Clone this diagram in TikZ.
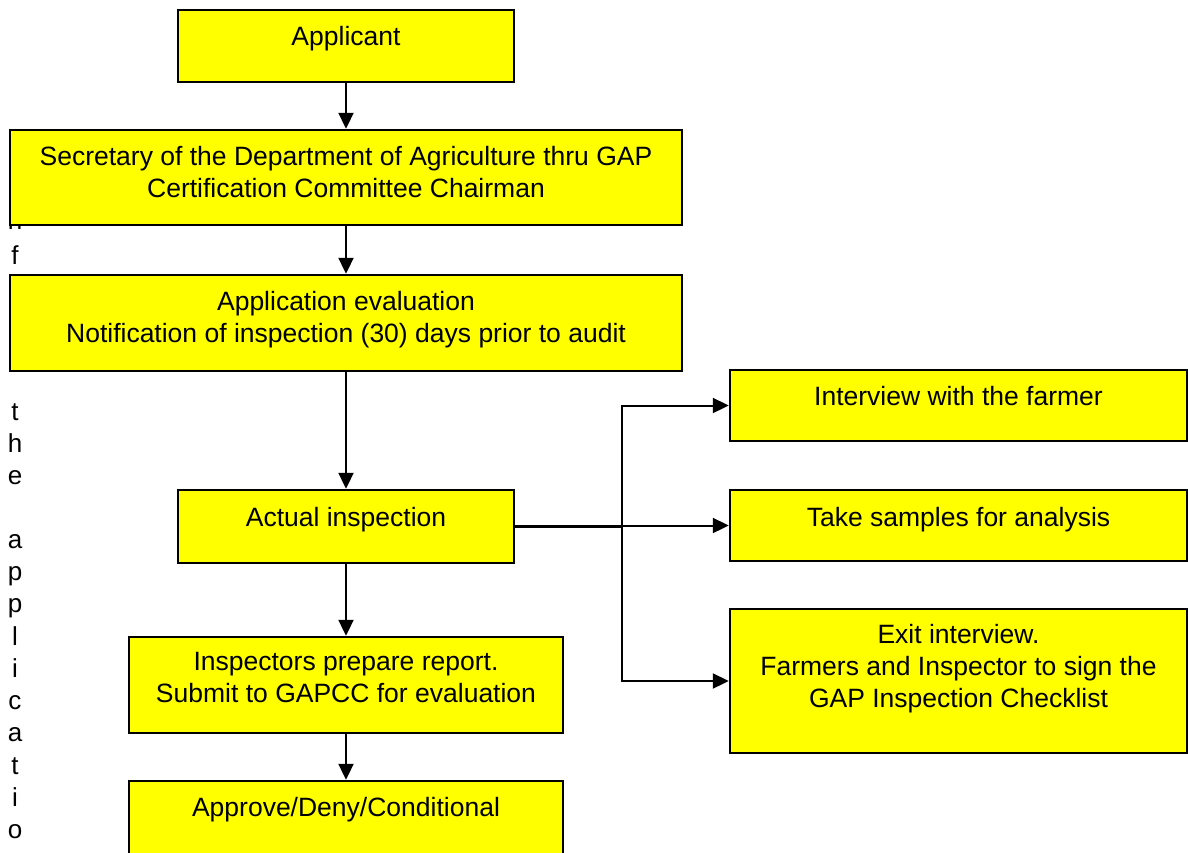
\documentclass[tikz,border=0pt]{standalone}
\usepackage{fontspec}
\setmainfont{Liberation Sans}
\usetikzlibrary{arrows.meta}
\definecolor{boxyellow}{RGB}{255,255,0}
\tikzset{
  box/.style={draw=black, fill=boxyellow, line width=2.4pt, inner sep=0pt, rectangle},
  txt/.style={anchor=base, inner sep=0pt, align=center, font=\fontsize{26.5}{32}\selectfont},
  letter/.style={anchor=base, inner sep=0pt, font=\fontsize{26}{32}\selectfont},
  arr/.style={line width=2pt, -{Triangle[length=16pt,width=15pt]}},
  conn/.style={line width=2.6pt}
}
\begin{document}
\begin{tikzpicture}[x=1pt,y=-1pt]
\useasboundingbox (0,0) rectangle (1188,852);
\clip (0,0) rectangle (1188,852);
% vertical letters on the left
\node[letter] (l0) at (15,229) {n};
\node[letter] (l1) at (15,264) {f};
\node[letter] (l2) at (15,420) {t};
\node[letter] (l3) at (15,452) {h};
\node[letter] (l4) at (15,484) {e};
\node[letter] (l5) at (15,548) {a};
\node[letter] (l6) at (15,580.5) {p};
\node[letter] (l7) at (15,612.5) {p};
\node[letter] (l8) at (15,645) {l};
\node[letter] (l9) at (15,677) {i};
\node[letter] (l10) at (15,709.5) {c};
\node[letter] (l11) at (15,741.5) {a};
\node[letter] (l12) at (15,774) {t};
\node[letter] (l13) at (15,806) {i};
\node[letter] (l14) at (15,838) {o};
% boxes
\node[box, minimum width=336pt, minimum height=72pt] (app) at (346,46) {};
\node[box, minimum width=672pt, minimum height=95pt] (sec) at (346,177.5) {};
\node[box, minimum width=672pt, minimum height=96pt] (eval) at (346,323) {};
\node[box, minimum width=457pt, minimum height=71pt] (intv) at (958.5,405.5) {};
\node[box, minimum width=336pt, minimum height=73pt] (act) at (346,526.5) {};
\node[box, minimum width=457pt, minimum height=71pt] (samp) at (958.5,525.5) {};
\node[box, minimum width=457pt, minimum height=144pt] (exit) at (958.5,681) {};
\node[box, minimum width=434pt, minimum height=96pt] (insp) at (346,685) {};
\node[box, minimum width=434pt, minimum height=100pt] (appr) at (346,831) {};
% texts (multi-line: anchor is the baseline of the last line)
\node[txt] (tapp) at (346,45) {Applicant};
\node[txt] (tsec) at (346,197) {Secretary of the Department of Agriculture thru GAP\\Certification Committee Chairman};
\node[txt] (teval) at (346,342) {Application evaluation\\Notification of inspection (30) days prior to audit};
\node[txt] (tintv) at (958.5,405) {Interview with the farmer};
\node[txt] (tact) at (346,526) {Actual inspection};
\node[txt] (tsamp) at (958.5,526) {Take samples for analysis};
\node[txt] (texit) at (958.5,707) {Exit interview.\\Farmers and Inspector to sign the\\GAP Inspection Checklist};
\node[txt] (tinsp) at (346,702) {Inspectors prepare report.\\Submit to GAPCC for evaluation};
\node[txt] (tappr) at (346,816) {Approve/Deny/Conditional};
% connectors
\draw[arr] (app.south) -- (sec.north);
\draw[arr] (sec.south) -- (eval.north);
\draw[arr] (eval.south) -- (act.north);
\draw[arr] (act.south) -- (insp.north);
\draw[arr] (insp.south) -- (appr.north);
\coordinate (br) at (622,526.5);
\draw[conn] (act.east) -- (br);
\draw[arr] (br) |- (intv.west);
\draw[arr] (br) |- (samp.west);
\draw[arr] (br) |- (exit.west);
\end{tikzpicture}
\end{document}
